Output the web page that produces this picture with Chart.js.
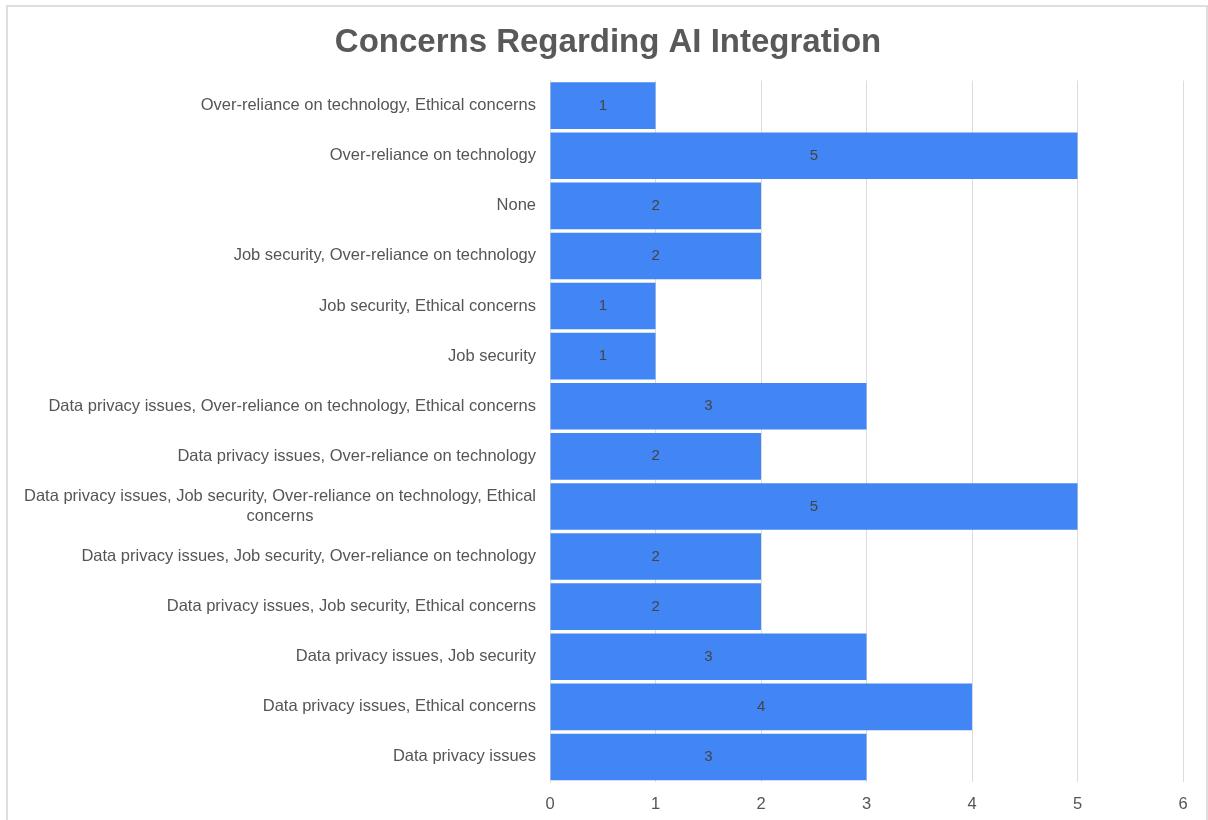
<!DOCTYPE html>
<html>
<head>
<meta charset="utf-8">
<script src="https://cdn.jsdelivr.net/npm/chart.js@4/dist/chart.umd.min.js"></script>
<style>
  html, body { margin: 0; padding: 0; background: #fff; }
  #frame {
    position: absolute; left: 6px; top: 5px; width: 1202px; height: 830px;
    border: 2px solid #dedede; box-sizing: border-box;
  }
  #wrap { position: absolute; left: 0; top: 0; width: 1208px; height: 820px; }
</style>
</head>
<body>
<div id="frame"></div>
<div id="wrap"><canvas id="myChart"></canvas></div>
<script>
const categories = [
  "Over-reliance on technology, Ethical concerns",
  "Over-reliance on technology",
  "None",
  "Job security, Over-reliance on technology",
  "Job security, Ethical concerns",
  "Job security",
  "Data privacy issues, Over-reliance on technology, Ethical concerns",
  "Data privacy issues, Over-reliance on technology",
  ["Data privacy issues, Job security, Over-reliance on technology, Ethical", "concerns"],
  "Data privacy issues, Job security, Over-reliance on technology",
  "Data privacy issues, Job security, Ethical concerns",
  "Data privacy issues, Job security",
  "Data privacy issues, Ethical concerns",
  "Data privacy issues",
];
const counts = [1, 5, 2, 2, 1, 1, 3, 2, 5, 2, 2, 3, 4, 3];
const xTicks = [0, 1, 2, 3, 4, 5, 6];

const FONT = "'Liberation Sans', Arial, sans-serif";
const LABEL_SIZE = 16.5;
const LABEL_PAD = 14;
const PAD_LEFT = 33;

// value printed in the middle of each bar
const barValues = {
  id: "barValues",
  afterDatasetsDraw(chart) {
    const c = chart.ctx;
    const meta = chart.getDatasetMeta(0);
    c.save();
    c.font = "15px " + FONT;
    c.fillStyle = "#444444";
    c.textAlign = "center";
    c.textBaseline = "middle";
    meta.data.forEach((bar, i) => {
      const x = (bar.x + bar.base) / 2;
      c.fillText(String(counts[i]), x, bar.y);
    });
    c.restore();
  },
};

// wrapped category labels: lines centred on each other, block right-aligned
const wrappedLabels = {
  id: "wrappedLabels",
  afterDraw(chart) {
    const y = chart.scales.y;
    const c = chart.ctx;
    c.save();
    c.font = LABEL_SIZE + "px " + FONT;
    c.fillStyle = "#555555";
    c.textBaseline = "middle";
    c.textAlign = "center";
    categories.forEach((lab, i) => {
      if (!Array.isArray(lab)) return;
      const w = Math.max(...lab.map((l) => c.measureText(l).width));
      const cx = chart.chartArea.left - LABEL_PAD - w / 2;
      const yc = y.getPixelForTick(i);
      const lh = 20;
      lab.forEach((line, k) => {
        c.fillText(line, cx, yc + (k - (lab.length - 1) / 2) * lh);
      });
    });
    c.restore();
  },
};

const ctx = document.getElementById("myChart");
const myChart = new Chart(ctx, {
  type: "bar",
  data: {
    labels: categories,
    datasets: [
      {
        data: counts,
        backgroundColor: "#4285f4",
        borderWidth: 0,
        inflateAmount: 0,
        barPercentage: 1,
        categoryPercentage: 0.93,
      },
    ],
  },
  options: {
    indexAxis: "y",
    responsive: true,
    maintainAspectRatio: false,
    animation: false,
    layout: { padding: { left: PAD_LEFT, right: 25, top: 0, bottom: 0 } },
    plugins: {
      legend: { display: false },
      tooltip: { enabled: false },
      title: {
        display: true,
        text: "Concerns Regarding AI Integration",
        color: "#595959",
        font: { family: FONT, size: 33, weight: "bold" },
        padding: { top: 23, bottom: 18 },
      },
    },
    scales: {
      x: {
        min: 0,
        max: 6,
        afterBuildTicks(scale) {
          scale.ticks = xTicks.map((v) => ({ value: v }));
        },
        afterFit(scale) {
          scale.height = 38;
        },
        grid: { color: "#dcdcdc", drawTicks: false, lineWidth: 1 },
        border: { display: false },
        ticks: {
          color: "#555555",
          font: { family: FONT, size: LABEL_SIZE },
          padding: 13,
        },
      },
      y: {
        afterFit(scale) {
          scale.width = 550 - PAD_LEFT;
        },
        grid: { display: false, drawTicks: false },
        border: { display: true, color: "#dcdcdc", width: 1 },
        ticks: {
          color: (c) => (Array.isArray(categories[c.index]) ? "rgba(0,0,0,0)" : "#555555"),
          font: { family: FONT, size: LABEL_SIZE },
          padding: LABEL_PAD,
        },
      },
    },
  },
  plugins: [barValues, wrappedLabels],
});
</script>
</body>
</html>
